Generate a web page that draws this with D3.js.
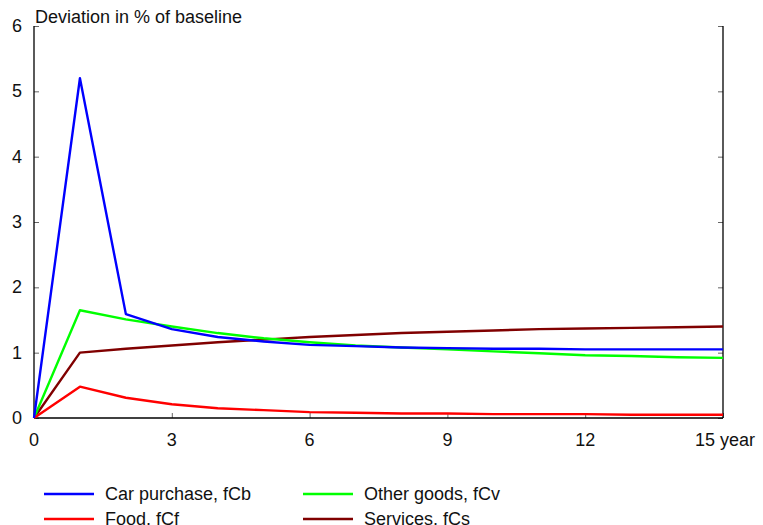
<!DOCTYPE html>
<html>
<head>
<meta charset="utf-8">
<script src="https://cdn.jsdelivr.net/npm/d3@7"></script>
<style>
  html, body { margin: 0; padding: 0; background: #fff; overflow: hidden; }
  svg { display: block; font-family: "Liberation Sans", Arial, Helvetica, sans-serif; }
</style>
</head>
<body>
<svg id="chart" width="763" height="525"></svg>
<script>
// Years after the shock
const years = [0, 1, 2, 3, 4, 5, 6, 7, 8, 9, 10, 11, 12, 13, 14, 15];

// Deviation in % of baseline, by consumption category
const carPurchase = [0, 5.20, 1.59, 1.36, 1.24, 1.17, 1.12, 1.10, 1.08, 1.07, 1.06, 1.06, 1.05, 1.05, 1.05, 1.05];
const otherGoods  = [0, 1.65, 1.51, 1.40, 1.30, 1.22, 1.16, 1.11, 1.08, 1.05, 1.02, 0.99, 0.96, 0.95, 0.93, 0.92];
const food        = [0, 0.48, 0.31, 0.21, 0.15, 0.12, 0.09, 0.08, 0.07, 0.07, 0.06, 0.06, 0.06, 0.05, 0.05, 0.05];
const services    = [0, 1.00, 1.06, 1.11, 1.16, 1.20, 1.24, 1.27, 1.30, 1.32, 1.34, 1.36, 1.37, 1.38, 1.39, 1.40];

const xTicks = [0, 3, 6, 9, 12, 15];
const xTickLabels = ["0", "3", "6", "9", "12", "15 year"];
const yTicks = [0, 1, 2, 3, 4, 5, 6];

const seriesList = [
  { name: "Car purchase, fCb", values: carPurchase, color: "#0000ff" },
  { name: "Food, fCf",         values: food,        color: "#ff0000" },
  { name: "Other goods, fCv",  values: otherGoods,  color: "#00ff00" },
  { name: "Services, fCs",     values: services,    color: "#800000" }
];

const svg = d3.select("#chart");
const plotLeft = 34, plotRight = 723, plotTop = 26, plotBottom = 418;
const fontSize = 18;

const x = d3.scaleLinear().domain([0, 15]).range([plotLeft, plotRight]);
const y = d3.scaleLinear().domain([0, 6]).range([plotBottom, plotTop]);

// Axes: left, right and bottom, ticks pointing inward
const yLeft = d3.axisRight(y).tickValues(yTicks).tickSize(5).tickFormat("");
const yRight = d3.axisLeft(y).tickValues(yTicks).tickSize(5).tickFormat("");
const xBottom = d3.axisTop(x).tickValues(xTicks).tickSize(5).tickFormat("");

function styleAxis(g) {
  g.select(".domain").remove();
  g.selectAll(".tick line").attr("stroke", "#666").attr("stroke-width", 1);
}

svg.append("g").attr("transform", `translate(${plotLeft},0)`).call(yLeft).call(styleAxis);
svg.append("g").attr("transform", `translate(${plotRight},0)`).call(yRight).call(styleAxis);
svg.append("g").attr("transform", `translate(0,${plotBottom})`).call(xBottom).call(styleAxis);

// Frame lines (open at the top)
svg.append("line").attr("x1", plotLeft).attr("x2", plotLeft).attr("y1", plotTop).attr("y2", plotBottom)
  .attr("stroke", "#000").attr("stroke-width", 1.3);
svg.append("line").attr("x1", plotRight).attr("x2", plotRight).attr("y1", plotTop).attr("y2", plotBottom)
  .attr("stroke", "#000").attr("stroke-width", 1.3);
svg.append("line").attr("x1", plotLeft).attr("x2", plotRight).attr("y1", plotBottom).attr("y2", plotBottom)
  .attr("stroke", "#000").attr("stroke-width", 1.3);

// Tick labels
svg.append("g").selectAll("text").data(yTicks).join("text")
  .attr("x", 22).attr("y", d => y(d) + 6)
  .attr("text-anchor", "end")
  .attr("font-size", fontSize).attr("fill", "#111")
  .text(d => d);

svg.append("g").selectAll("text").data(xTicks).join("text")
  .attr("x", (d, i) => i === xTicks.length - 1 ? x(d) + 2 : x(d)).attr("y", plotBottom + 28)
  .attr("text-anchor", "middle")
  .attr("font-size", fontSize).attr("fill", "#111")
  .text((d, i) => xTickLabels[i]);

svg.append("text")
  .attr("x", plotLeft + 1).attr("y", 23)
  .attr("font-size", fontSize).attr("fill", "#111")
  .text("Deviation in % of baseline");

// Lines
const line = d3.line()
  .x((d, i) => x(years[i]))
  .y(d => y(d));

const drawOrder = [seriesList[3], seriesList[2], seriesList[1], seriesList[0]];
svg.append("g").selectAll("path").data(drawOrder).join("path")
  .attr("d", d => line(d.values))
  .attr("fill", "none")
  .attr("stroke", d => d.color)
  .attr("stroke-width", 2.4)
  .attr("stroke-linejoin", "round");

// Legend in two columns
const legend = svg.append("g");
const legendItems = legend.selectAll("g").data(seriesList).join("g")
  .attr("transform", (d, i) => `translate(${44 + Math.floor(i / 2) * 259},${494 + (i % 2) * 25})`);
legendItems.append("line")
  .attr("x1", 0).attr("x2", 50).attr("y1", 0).attr("y2", 0)
  .attr("stroke", d => d.color).attr("stroke-width", 2.4);
legendItems.append("text")
  .attr("x", 61).attr("y", 6)
  .attr("font-size", fontSize).attr("fill", "#111")
  .text(d => d.name);
</script>
</body>
</html>
